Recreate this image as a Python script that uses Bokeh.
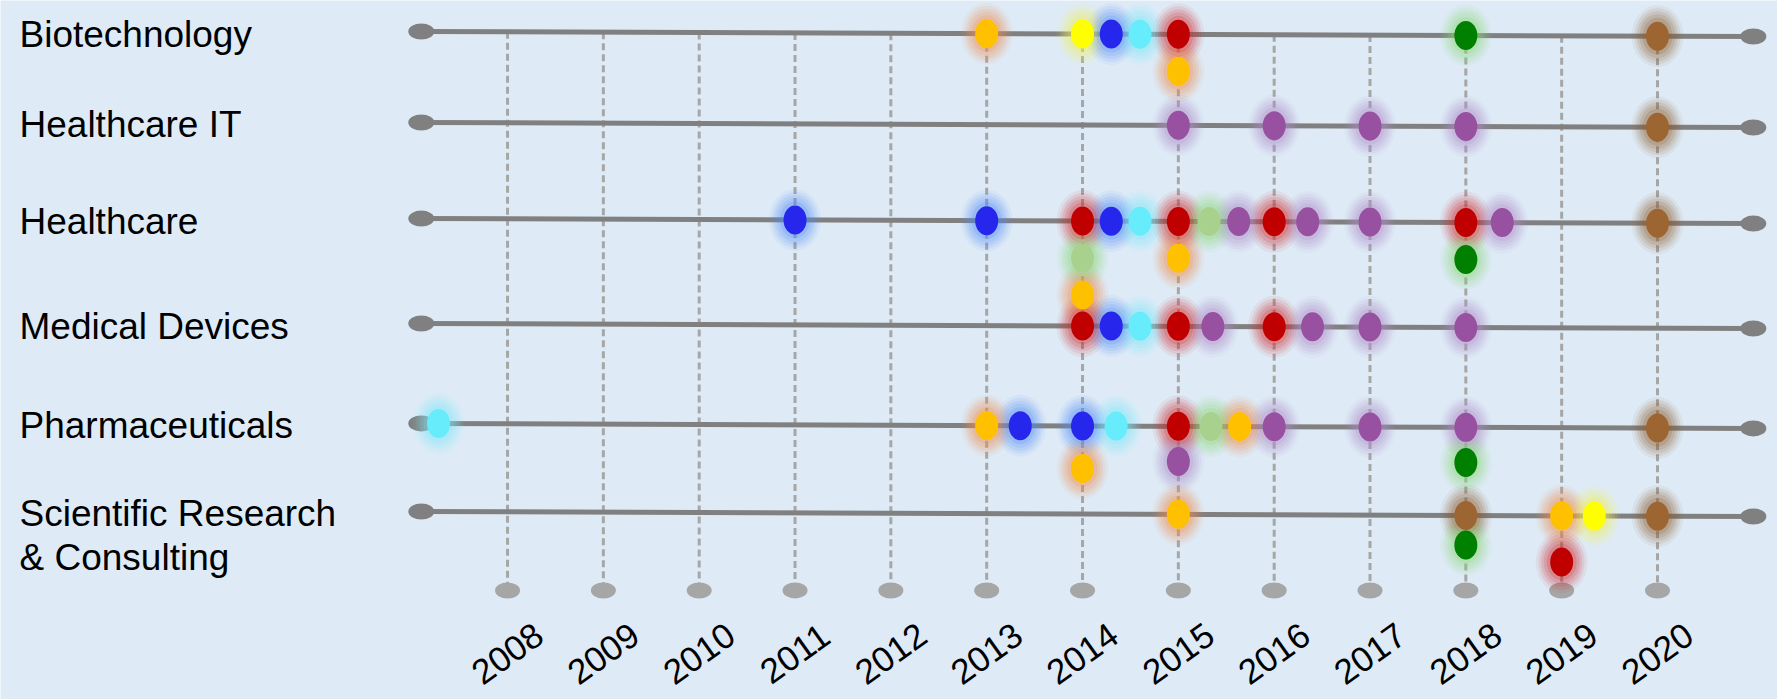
from bokeh.plotting import figure
from bokeh.models import Range1d, ColumnDataSource
from bokeh.core.properties import value
from bokeh.embed import file_html
from bokeh.resources import INLINE

# ---------------- data ----------------
categories = ["Biotechnology", "Healthcare IT", "Healthcare", "Medical Devices",
              "Pharmaceuticals", "Scientific Research\n& Consulting"]
years = list(range(2008, 2021))
year_labels = [str(y) for y in years]

bio_x = [2013, 2014, 2014.3, 2014.6, 2015, 2015, 2018, 2020]
bio_lvl = [0, 0, 0, 0, 0, 1, 0, 0]
bio_c = ["orange", "yellow", "blue", "cyan", "red", "orange", "green", "brown"]

hit_x = [2015, 2016, 2017, 2018, 2020]
hit_lvl = [0, 0, 0, 0, 0]
hit_c = ["purple", "purple", "purple", "purple", "brown"]

hc_x = [2011, 2013, 2014, 2014.3, 2014.6, 2015, 2015.32, 2015.63, 2016, 2016.35,
        2017, 2018, 2018.38, 2020, 2014, 2014, 2015, 2018]
hc_lvl = [0, 0, 0, 0, 0, 0, 0, 0, 0, 0, 0, 0, 0, 0, 1, 2, 1, 1]
hc_c = ["blue", "blue", "red", "blue", "cyan", "red", "lightgreen", "purple", "red",
        "purple", "purple", "red", "purple", "brown", "lightgreen", "orange", "orange", "green"]

md_x = [2014, 2014.3, 2014.6, 2015, 2015.36, 2016, 2016.4, 2017, 2018]
md_lvl = [0, 0, 0, 0, 0, 0, 0, 0, 0]
md_c = ["red", "blue", "cyan", "red", "purple", "red", "purple", "purple", "purple"]

ph_x = [2007.28, 2013, 2013.35, 2014, 2014.35, 2015, 2015.34, 2015.64, 2016, 2017,
        2018, 2020, 2014, 2015, 2018]
ph_lvl = [0, 0, 0, 0, 0, 0, 0, 0, 0, 0, 0, 0, 1.15, 0.95, 0.95]
ph_c = ["cyan", "orange", "blue", "blue", "cyan", "red", "lightgreen", "orange", "purple",
        "purple", "purple", "brown", "orange", "purple", "green"]

sci_x = [2015, 2018, 2019, 2019.34, 2020, 2018, 2019]
sci_lvl = [0, 0, 0, 0, 0, 0.8, 1.25]
sci_c = ["orange", "brown", "orange", "yellow", "brown", "green", "red"]

# ---------------- style / layout ----------------
BG = "#DEEBF7"
DOT = {"orange": "#FFC000", "yellow": "#FFFF00", "blue": "#2626EC", "cyan": "#66ECFA",
       "red": "#C00000", "green": "#008000", "lightgreen": "#A9D18E",
       "purple": "#9851A0", "brown": "#9C6531"}
GLOW = {"orange": "#F08A4B", "yellow": "#F2F25A", "blue": "#4F8EF7", "cyan": "#7FE8FA",
        "red": "#D02A2A", "green": "#8ED67A", "lightgreen": "#8ED67A",
        "purple": "#B08AC8", "brown": "#8E5A2A"}

ROW_POS = [0.032, 0.967, 1.954, 3.033, 4.06, 4.965]   # hand-drawn row spacing
PX_PER_YEAR = 95.83
PX_PER_ROW = 97.3
W, H = 1777, 699
X0 = 2002.709
Y0 = -0.3124
SLOT = 0.38
TILT = 0.0037          # slight downward slope of the hand-drawn rows (rows/year)
MID = 2014.0
LINE_START, LINE_END = 2007.1, 2021.0
BOTTOM = 5.751
LABEL_Y = 6.40
FONT = "Liberation Sans"


def tilt(x):
    return (x - MID) * TILT


p = figure(width=W, height=H, output_backend="svg", toolbar_location=None,
           x_range=Range1d(X0, X0 + W / PX_PER_YEAR),
           y_range=Range1d(Y0 + H / PX_PER_ROW, Y0),
           x_axis_type=None, y_axis_type=None, min_border=0)
p.grid.visible = False
p.outline_line_color = None
p.background_fill_color = BG
p.border_fill_color = BG

# dashed year lines
p.segment(x0=years, y0=[ROW_POS[0] + tilt(y) for y in years], x1=years,
          y1=[BOTTOM] * len(years),
          line_color="#A6A6A6", line_width=3, line_dash="7 4")
p.ellipse(x=years, y=[BOTTOM] * len(years), width=25, height=16,
          width_units="screen", height_units="screen",
          fill_color="#A6A6A6", line_color=None)

# row lines
p.segment(x0=[LINE_START] * len(ROW_POS), y0=[r + tilt(LINE_START) for r in ROW_POS],
          x1=[LINE_END] * len(ROW_POS), y1=[r + tilt(LINE_END) for r in ROW_POS],
          line_color="#808080", line_width=5)
p.ellipse(x=[LINE_START] * len(ROW_POS) + [LINE_END] * len(ROW_POS),
          y=[r + tilt(LINE_START) for r in ROW_POS] + [r + tilt(LINE_END) for r in ROW_POS],
          width=26, height=16, width_units="screen", height_units="screen",
          fill_color="#808080", line_color=None)

# dots
xs, ys, cs, gs = [], [], [], []
for r, (dx, dl, dc) in enumerate([(bio_x, bio_lvl, bio_c), (hit_x, hit_lvl, hit_c),
                                  (hc_x, hc_lvl, hc_c), (md_x, md_lvl, md_c),
                                  (ph_x, ph_lvl, ph_c), (sci_x, sci_lvl, sci_c)]):
    for x, l, c in zip(dx, dl, dc):
        xs.append(x)
        ys.append(ROW_POS[r] + tilt(x) + l * SLOT)
        cs.append(DOT[c])
        gs.append(GLOW[c])
src = ColumnDataSource(dict(x=xs, y=ys, c=cs, g=gs))

for (w, h, a) in [(52, 62, 0.07), (46, 56, 0.10), (41, 50, 0.12), (36, 44, 0.15), (30, 37, 0.2)]:
    p.ellipse(x="x", y="y", width=w, height=h, width_units="screen", height_units="screen",
              fill_color="g", fill_alpha=a, line_color=None, source=src)
p.ellipse(x="x", y="y", width=23, height=29, width_units="screen", height_units="screen",
          fill_color="c", line_color=None, source=src)

# row labels
lx, ly, lt, lo = [], [], [], []
for r, name in enumerate(categories):
    for k, part in enumerate(name.split("\n")):
        lx.append(X0 + 19 / PX_PER_YEAR)
        ly.append(ROW_POS[r])
        lt.append(part)
        lo.append(k * 44)
p.text(x=lx, y=ly, text=lt, y_offset=lo, text_align="left", text_baseline="middle",
       text_font=value(FONT), text_font_size="37px", text_color="black")

# year labels
p.text(x=years, y=[LABEL_Y] * len(years), text=year_labels, angle=0.62,
       text_align="center", text_baseline="middle",
       text_font=value(FONT), text_font_size="35px", text_color="black")

open("out.html", "w").write(file_html(p, INLINE))
